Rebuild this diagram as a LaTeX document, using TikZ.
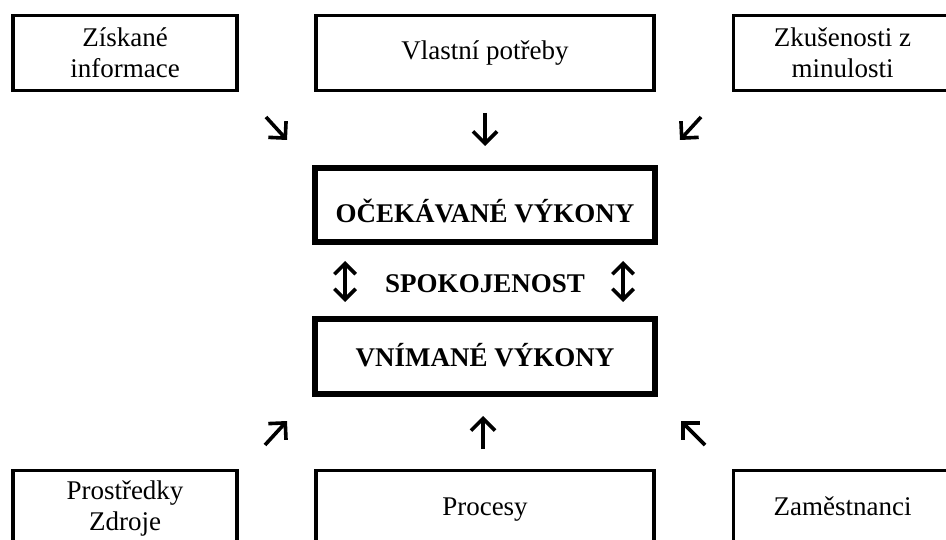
\documentclass[tikz,border=0pt]{standalone}
\usepackage{fontspec}
\setmainfont{Liberation Serif}
\usetikzlibrary{arrows.meta}
% shift a centred line to the left (boxes running past the right margin)
\newcommand{\lft}[1]{\hspace*{-32pt}#1}
\begin{document}
\begin{tikzpicture}[x=1pt,y=-1pt,
  outer/.style={draw,line width=3.2pt,rectangle,minimum height=75pt,inner sep=0pt,
    align=center,font=\fontsize{27}{31}\selectfont},
  oneline/.style={text height=21pt,text depth=7pt},
  core/.style={draw,line width=5.5pt,rectangle,minimum width=340pt,minimum height=75pt,
    inner sep=0pt,font=\bfseries\fontsize{27}{31}\selectfont},
  arr/.style={line width=3.6pt,-{Straight Barb[angle=90:17pt,sharp]}},
  darr/.style={line width=3.6pt,{Straight Barb[angle=90:15pt,sharp]}-{Straight Barb[angle=90:15pt,sharp]}}]
\useasboundingbox (0,0) rectangle (946,540);
\clip (0,0) rectangle (946,540);

% influences on expected performance
\node[outer,minimum width=224pt] (info) at (125,53) {Získané\\informace};
\node[outer,oneline,minimum width=338pt] (needs) at (485,53) {Vlastní potřeby};
\node[outer,anchor=west,minimum width=250pt] (past) at (732,53) {\lft{Zkušenosti z}\\\lft{minulosti}};

% expected vs perceived performance
\node[core,minimum height=74pt,text height=40pt,text depth=4pt] (exp) at (485,205) {OČEKÁVANÉ VÝKONY};
\node[font=\bfseries\fontsize{27}{31}\selectfont,anchor=base,inner sep=0pt] (sat) at (485,293) {SPOKOJENOST};
\node[core,text height=26pt,text depth=6pt] (perc) at (485,356.5) {VNÍMANÉ VÝKONY};

% influences on perceived performance
\node[outer,minimum width=224pt] (res) at (125,508) {Prostředky\\Zdroje};
\node[outer,oneline,minimum width=338pt] (proc) at (485,508) {Procesy};
\node[outer,oneline,anchor=west,minimum width=250pt] (staff) at (732,508) {\lft{Zaměstnanci}};

% arrow end points
\coordinate (a1s) at (266,117);
\coordinate (a1e) at (287,140);
\coordinate (a2s) at (485,113);
\coordinate (a2e) at (485,146);
\coordinate (a3s) at (701,117);
\coordinate (a3e) at (680,140);
\coordinate (d1s) at (345,261);
\coordinate (d1e) at (345,302);
\coordinate (d2s) at (623,261);
\coordinate (d2e) at (623,302);
\coordinate (b1s) at (265,445);
\coordinate (b1e) at (287,421);
\coordinate (b2s) at (483,449);
\coordinate (b2e) at (483,416);
\coordinate (b3s) at (705,445);
\coordinate (b3e) at (681,421);

\draw[arr] (a1s) -- (a1e);
\draw[arr] (a2s) -- (a2e);
\draw[arr] (a3s) -- (a3e);
\draw[darr] (d1s) -- (d1e);
\draw[darr] (d2s) -- (d2e);
\draw[arr] (b1s) -- (b1e);
\draw[arr] (b2s) -- (b2e);
\draw[arr] (b3s) -- (b3e);
\end{tikzpicture}
\end{document}
